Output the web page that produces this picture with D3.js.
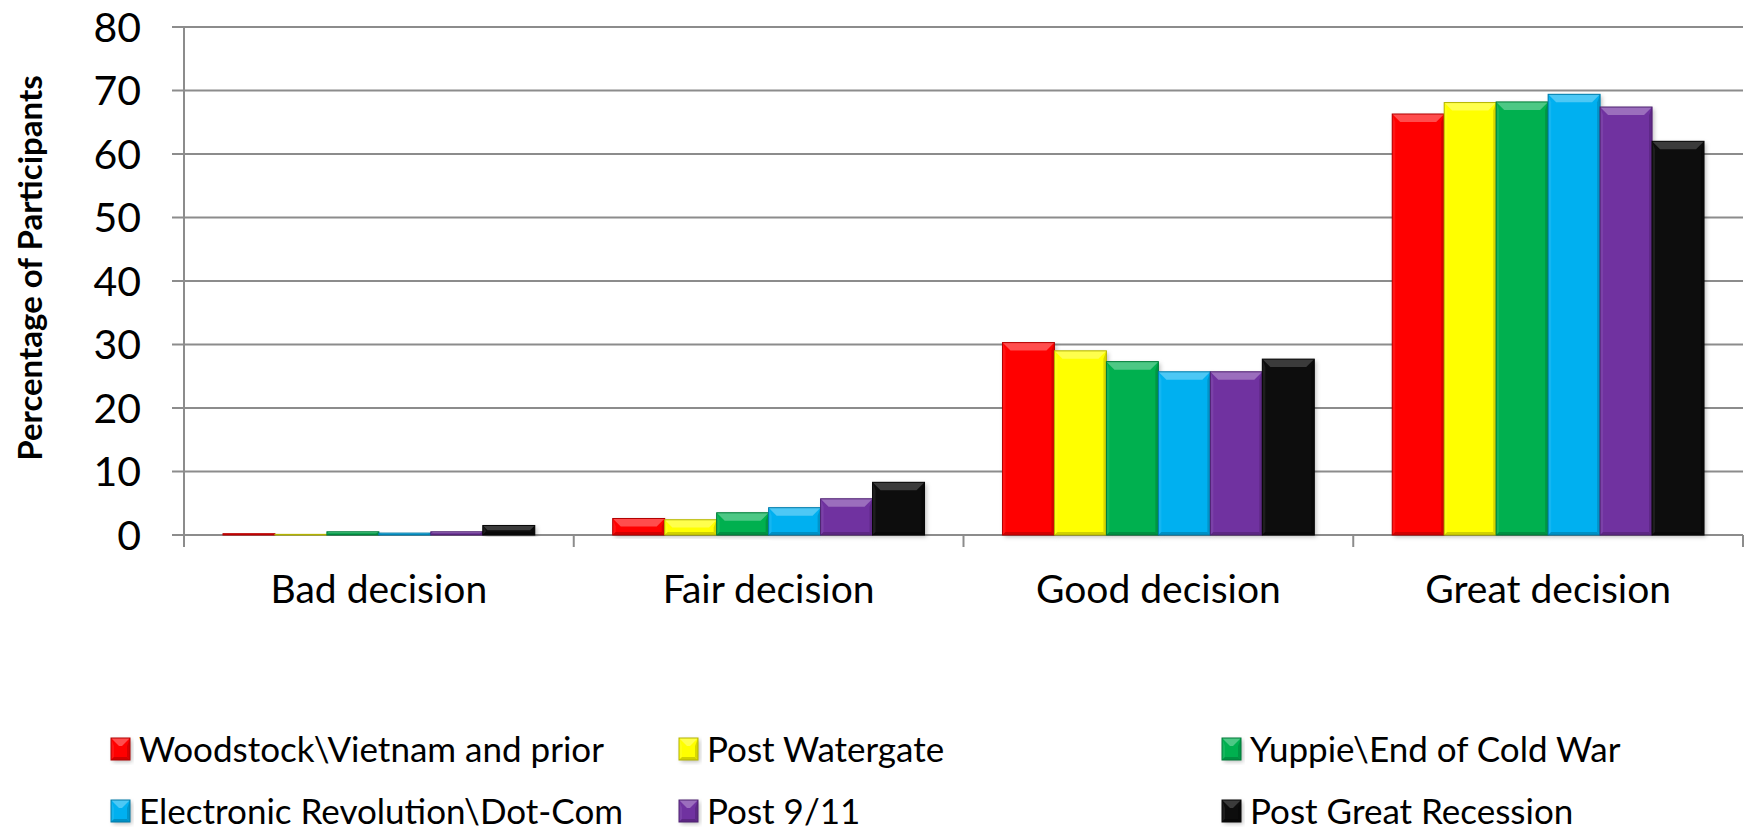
<!DOCTYPE html>
<html>
<head>
<meta charset="utf-8">
<script src="https://cdn.jsdelivr.net/npm/d3@7"></script>
<style>
  body { margin: 0; background: #fff; }
  text { font-family: Lato, "Open Sans", sans-serif; fill: #000; }
</style>
</head>
<body>
<div id="chart"></div>
<script>
// data
const categories = ['Bad decision', 'Fair decision', 'Good decision', 'Great decision']
const series = ['Woodstock\\Vietnam and prior', 'Post Watergate', 'Yuppie\\End of Cold War',
                'Electronic Revolution\\Dot-Com', 'Post 9/11', 'Post Great Recession']
const woodstock = [0.2, 2.6, 30.3, 66.3]
const watergate = [0.1, 2.4, 29.0, 68.1]
const yuppie    = [0.5, 3.5, 27.3, 68.2]
const dotcom    = [0.3, 4.3, 25.7, 69.4]
const post911   = [0.5, 5.7, 25.7, 67.4]
const recession = [1.5, 8.3, 27.7, 62.0]
const yTicks = [0, 10, 20, 30, 40, 50, 60, 70, 80]

const values = [woodstock, watergate, yuppie, dotcom, post911, recession]
const colors = ['#ff0000', '#ffff00', '#00b050', '#00b0f0', '#7030a0', '#0a0a0a']

const W = 1746, H = 831
const m = {l: 184, r: 3, t: 27, b: 296}

const svg = d3.select('#chart').append('svg')
    .attr('width', W).attr('height', H)

const defs = svg.append('defs')
defs.append('filter').attr('id', 'shadow')
    .attr('x', '-20%').attr('y', '-20%').attr('width', '140%').attr('height', '140%')
    .append('feDropShadow')
    .attr('dx', 2).attr('dy', 2).attr('stdDeviation', 2)
    .attr('flood-color', '#000').attr('flood-opacity', 0.25)

const x = d3.scaleBand().domain(categories)
    .range([m.l, W - m.r]).paddingInner(0.2).paddingOuter(0.1)
const step = x.step()
const x1 = d3.scaleBand().domain(series).range([0, x.bandwidth()])
const y = d3.scaleLinear().domain([0, 80]).range([H - m.b, m.t])

const gridColor = '#8c8c8c'

// gridlines + y ticks
svg.append('g').selectAll('line').data(yTicks).enter().append('line')
    .attr('x1', m.l - 12).attr('x2', W - m.r)
    .attr('y1', d => y(d)).attr('y2', d => y(d))
    .attr('stroke', gridColor).attr('stroke-width', 2)

svg.append('g').selectAll('text').data(yTicks).enter().append('text')
    .attr('x', 141).attr('y', d => y(d))
    .attr('dy', '0.36em')
    .attr('text-anchor', 'end')
    .style('font-size', '41px')
    .text(d => d)

// y axis line
svg.append('line')
    .attr('x1', m.l).attr('x2', m.l)
    .attr('y1', y(80)).attr('y2', y(0) + 12)
    .attr('stroke', gridColor).attr('stroke-width', 2)

// category ticks
const bounds = categories.map(c => x(c) - step * 0.1).concat([x(categories[3]) + step * 0.9])
svg.append('g').selectAll('line').data(bounds.slice(1)).enter().append('line')
    .attr('x1', d => d).attr('x2', d => d)
    .attr('y1', y(0)).attr('y2', y(0) + 12)
    .attr('stroke', gridColor).attr('stroke-width', 2)

// category labels
svg.append('g').selectAll('text').data(categories).enter().append('text')
    .attr('x', d => x(d) + x.bandwidth() / 2)
    .attr('y', 603)
    .attr('text-anchor', 'middle')
    .style('font-size', '39px')
    .text(d => d)

// y title
svg.append('text')
    .attr('transform', 'translate(42,268) rotate(-90)')
    .attr('text-anchor', 'middle')
    .style('font-size', '33px').style('font-weight', 'bold')
    .text('Percentage of Participants')

// bevelled bar
function bevelBar(g, bx, by, bw, bh, color) {
    const light = d3.interpolateRgb(color, '#ffffff')
    const dark = d3.interpolateRgb(color, '#000000')
    const t = Math.min(8, bh / 2), s = Math.min(3, bw / 2), bt = Math.min(3, bh / 2)
    g.append('rect')
        .attr('x', bx).attr('y', by).attr('width', bw).attr('height', bh)
        .attr('fill', color)
        .attr('filter', 'url(#shadow)')
    const poly = (pts, fill) => g.append('polygon')
        .attr('points', pts.map(p => p.join(',')).join(' '))
        .attr('fill', fill)
    // top bevel
    poly([[bx, by], [bx + bw, by], [bx + bw - t, by + t], [bx + t, by + t]], light(color === '#0a0a0a' ? 0.2 : 0.3))
    // left / right edges
    poly([[bx, by], [bx + s, by + t], [bx + s, by + bh - bt], [bx, by + bh]], light(0.08))
    poly([[bx + bw, by], [bx + bw - s, by + t], [bx + bw - s, by + bh - bt], [bx + bw, by + bh]], dark(0.15))
    // bottom bevel
    poly([[bx, by + bh], [bx + bw, by + bh], [bx + bw - bt, by + bh - bt], [bx + bt, by + bh - bt]], dark(0.18))
    g.append('rect')
        .attr('x', bx).attr('y', by).attr('width', bw).attr('height', bh)
        .attr('fill', 'none').attr('stroke', dark(0.3)).attr('stroke-width', 1)
}

const bars = svg.append('g')
categories.forEach((c, ci) => {
    series.forEach((s, si) => {
        const v = values[si][ci]
        const g = bars.append('g')
        bevelBar(g, x(c) + x1(s), y(v), x1.bandwidth(), y(0) - y(v), colors[si])
    })
})

// legend
const legX = [111, 679, 1222]
const legY = [749, 811]
const leg = svg.append('g').selectAll('g').data(series).enter().append('g')
    .attr('transform', (d, i) => 'translate(' + legX[i % 3] + ',' + legY[Math.floor(i / 3)] + ')')
leg.each(function(d, i) {
    bevelBar(d3.select(this), 0, -11, 19, 22, colors[i])
})
leg.append('text')
    .attr('x', 28).attr('dy', '0.36em')
    .style('font-size', '35px')
    .text(d => d)
</script>
</body>
</html>
